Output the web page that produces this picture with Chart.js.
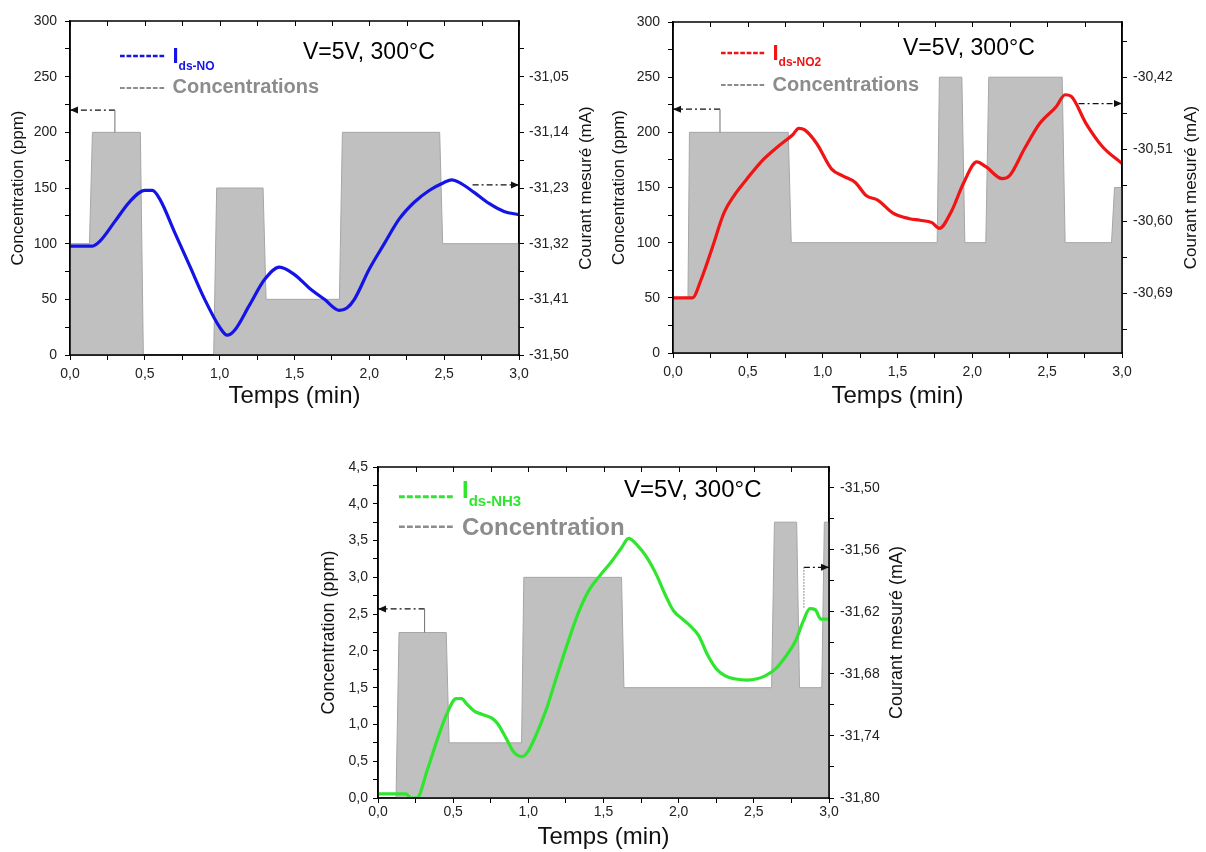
<!DOCTYPE html>
<html>
<head>
<meta charset="utf-8">
<script src="https://cdn.jsdelivr.net/npm/chart.js@4.4.0/dist/chart.umd.min.js"></script>
<style>
    html, body { margin: 0; padding: 0; background: #fff; }
    body { width: 1206px; height: 852px; position: relative; overflow: hidden; }
    .panel { position: absolute; }
</style>
</head>
<body>
<div class="panel" style="left:0;top:0;"><canvas id="chartNO" width="600" height="420"></canvas></div>
<div class="panel" style="left:600px;top:0;"><canvas id="chartNO2" width="606" height="420"></canvas></div>
<div class="panel" style="left:300px;top:450px;"><canvas id="chartNH3" width="620" height="402"></canvas></div>
<script>
// ======================================
// DATA
// ======================================
const timeTicks  = [0, 0.25, 0.5, 0.75, 1, 1.25, 1.5, 1.75, 2, 2.25, 2.5, 2.75, 3];
const timeLabels = ["0,0", "", "0,5", "", "1,0", "", "1,5", "", "2,0", "", "2,5", "", "3,0"];

const ppmTicks  = [0, 25, 50, 75, 100, 125, 150, 175, 200, 225, 250, 275, 300];
const ppmLabels = ["0", "", "50", "", "100", "", "150", "", "200", "", "250", "", "300"];

const nh3PpmTicks  = [0, 0.25, 0.5, 0.75, 1, 1.25, 1.5, 1.75, 2, 2.25, 2.5, 2.75, 3, 3.25, 3.5, 3.75, 4, 4.25, 4.5];
const nh3PpmLabels = ["0,0", "", "0,5", "", "1,0", "", "1,5", "", "2,0", "", "2,5", "", "3,0", "", "3,5", "", "4,0", "", "4,5"];

// --- NO panel
const noRightTicks  = [-31.50, -31.455, -31.41, -31.365, -31.32, -31.275, -31.23, -31.185, -31.14, -31.095, -31.05, -31.005];
const noRightLabels = ["-31,50", "", "-31,41", "", "-31,32", "", "-31,23", "", "-31,14", "", "-31,05", ""];
const noTime = [0, 0.1, 0.15, 0.2, 0.3, 0.4, 0.5, 0.55, 0.6, 0.7, 0.8, 0.9, 1.0, 1.05, 1.1, 1.2, 1.3, 1.4,
    1.5, 1.6, 1.7, 1.8, 1.85, 1.9, 2.0, 2.1, 2.2, 2.3, 2.4, 2.5, 2.55, 2.6, 2.7, 2.8, 2.9, 3.0];
const noCurrent = [-31.324, -31.324, -31.324, -31.316, -31.284, -31.252, -31.234, -31.234, -31.248, -31.302,
    -31.356, -31.410, -31.455, -31.468, -31.460, -31.419, -31.378, -31.358, -31.370, -31.392, -31.410, -31.428,
    -31.424, -31.410, -31.361, -31.320, -31.280, -31.253, -31.234, -31.221, -31.217, -31.221, -31.237, -31.255,
    -31.268, -31.273];
const noConcTime = [0, 0.13, 0.15, 0.47, 0.49, 0.96, 0.98, 1.29, 1.31, 1.80, 1.82, 2.47, 2.49, 3.0];
const noConc     = [100, 100, 200, 200, 0, 0, 150, 150, 50, 50, 200, 200, 100, 100];
const noArrowLeft  = { x: [0.30, 0.30, 0.0], y: [200, 220, 220] };
const noArrowRight = { x: [2.69, 3.0], y: [-31.225, -31.225] };

// --- NO2 panel
const no2RightTicks  = [-30.735, -30.69, -30.645, -30.60, -30.555, -30.51, -30.465, -30.42, -30.375];
const no2RightLabels = ["", "-30,69", "", "-30,60", "", "-30,51", "", "-30,42", ""];
const no2Time = [0, 0.13, 0.186, 0.263, 0.34, 0.405, 0.495, 0.598, 0.70, 0.80, 0.84, 0.88, 0.96, 1.06, 1.14,
    1.22, 1.29, 1.37, 1.47, 1.58, 1.65, 1.73, 1.78, 1.86, 1.94, 2.03, 2.09, 2.20, 2.25, 2.35, 2.45, 2.56, 2.62,
    2.66, 2.76, 2.87, 3.0];
const no2Current = [-30.696, -30.696, -30.674, -30.633, -30.590, -30.569, -30.547, -30.524, -30.507, -30.492,
    -30.484, -30.486, -30.503, -30.535, -30.544, -30.552, -30.568, -30.574, -30.590, -30.597, -30.599, -30.602,
    -30.609, -30.588, -30.553, -30.526, -30.532, -30.547, -30.543, -30.509, -30.478, -30.457, -30.442, -30.444,
    -30.478, -30.507, -30.528];
const no2ConcTime = [0, 0.10, 0.11, 0.77, 0.79, 1.765, 1.78, 1.93, 1.95, 2.09, 2.11, 2.60, 2.62, 2.93, 2.95, 3.0];
const no2Conc     = [50, 50, 200, 200, 100, 100, 250, 250, 100, 100, 250, 250, 100, 100, 150, 150];
const no2ArrowLeft  = { x: [0.314, 0.314, 0.0], y: [200, 221, 221] };
const no2ArrowRight = { x: [2.71, 3.0], y: [-30.453, -30.453] };

// --- NH3 panel
const nh3RightTicks  = [-31.80, -31.77, -31.74, -31.71, -31.68, -31.65, -31.62, -31.59, -31.56, -31.53, -31.50];
const nh3RightLabels = ["-31,80", "", "-31,74", "", "-31,68", "", "-31,62", "", "-31,56", "", "-31,50"];
const nh3Time = [0, 0.186, 0.22, 0.258, 0.33, 0.40, 0.46, 0.52, 0.556, 0.59, 0.64, 0.69, 0.76, 0.795, 0.855,
    0.90, 0.96, 0.998, 1.046, 1.118, 1.19, 1.26, 1.33, 1.40, 1.476, 1.55, 1.62, 1.667, 1.727, 1.786, 1.858,
    1.906, 1.966, 2.025, 2.073, 2.133, 2.19, 2.25, 2.31, 2.38, 2.455, 2.515, 2.575, 2.646, 2.718, 2.778, 2.826,
    2.873, 2.909, 2.945, 3.0];
const nh3Current = [-31.796, -31.796, -31.800, -31.800, -31.772, -31.741, -31.718, -31.704, -31.704, -31.709,
    -31.716, -31.719, -31.723, -31.728, -31.743, -31.755, -31.760, -31.755, -31.741, -31.715, -31.682, -31.651,
    -31.622, -31.600, -31.585, -31.572, -31.558, -31.549, -31.556, -31.567, -31.586, -31.602, -31.619, -31.627,
    -31.633, -31.643, -31.661, -31.675, -31.682, -31.685, -31.686, -31.685, -31.682, -31.675, -31.662, -31.648,
    -31.630, -31.617, -31.618, -31.627, -31.627];
const nh3ConcTime = [0, 0.12, 0.14, 0.454, 0.473, 0.955, 0.97, 1.62, 1.636, 2.618, 2.637, 2.785, 2.804, 2.952, 2.969, 3.0];
const nh3Conc     = [0, 0, 2.25, 2.25, 0.75, 0.75, 3, 3, 1.5, 1.5, 3.75, 3.75, 1.5, 1.5, 3.75, 3.75];
const nh3ArrowLeft  = { x: [0.31, 0.31, 0.0], y: [2.25, 2.57, 2.57] };
const nh3ArrowRight = { x: [2.833, 2.833, 3.0], y: [-31.616, -31.577, -31.577] };

// ======================================
// HELPERS
// ======================================
const FONT = '"Liberation Sans", Arial, sans-serif';
const zip = (xs, ys) => xs.map((x, i) => ({ x: x, y: ys[i] }));

function dashes(ctx, x0, x1, y, color, w) {
    const seg = (x1 - x0) / 7;
    ctx.save();
    ctx.strokeStyle = color;
    ctx.lineWidth = w;
    ctx.setLineDash([seg * 0.72, seg * 0.28]);
    ctx.beginPath();
    ctx.moveTo(x0, y);
    ctx.lineTo(x1, y);
    ctx.stroke();
    ctx.restore();
}

// frame, inward top ticks, right title, legend text, arrow heads
const panelDecor = {
    id: "panelDecor",
    afterDraw(chart, args, o) {
        const { ctx, chartArea: a, scales } = chart;
        ctx.save();

        // arrow heads at the end of the dash-dot pointers
        chart.data.datasets.forEach((ds, i) => {
            if (!ds.arrowHead) return;
            const pts = chart.getDatasetMeta(i).data;
            const p = pts[pts.length - 1];
            const d = ds.arrowHead === "left" ? 1 : -1;
            ctx.fillStyle = "#111";
            ctx.beginPath();
            ctx.moveTo(p.x, p.y);
            ctx.lineTo(p.x + d * 8, p.y - 3.5);
            ctx.lineTo(p.x + d * 8, p.y + 3.5);
            ctx.closePath();
            ctx.fill();
        });

        ctx.strokeStyle = "#000";
        ctx.lineWidth = 1.5;
        ctx.strokeRect(a.left, a.top, a.right - a.left, a.bottom - a.top);
        ctx.lineWidth = 1;
        ctx.beginPath();
        scales.x.ticks.forEach(t => {
            const px = Math.round(scales.x.getPixelForValue(t.value)) + 0.5;
            ctx.moveTo(px, a.top);
            ctx.lineTo(px, a.top + 5);
        });
        ctx.stroke();

        // right axis title reads bottom-to-top like the left one
        ctx.save();
        ctx.translate(o.rightTitleX, (a.top + a.bottom) / 2);
        ctx.rotate(-Math.PI / 2);
        ctx.font = o.rightTitleSize + "px " + FONT;
        ctx.fillStyle = "#111";
        ctx.textAlign = "center";
        ctx.textBaseline = "middle";
        ctx.fillText("Courant mesuré (mA)", 0, 0);
        ctx.restore();

        // legend
        const L = o.legend;
        dashes(ctx, a.left + L.dashX[0], a.left + L.dashX[1], a.top + L.rowY[0], L.color, L.dashW);
        dashes(ctx, a.left + L.dashX[0], a.left + L.dashX[1], a.top + L.rowY[1], "#8c8c8c", L.dashW - 0.5);
        ctx.textAlign = "left";
        ctx.textBaseline = "alphabetic";
        ctx.fillStyle = L.color;
        ctx.font = "bold " + L.iSize + "px " + FONT;
        const tx = a.left + L.textX;
        ctx.fillText("I", tx, a.top + L.iBase);
        const iw = ctx.measureText("I").width;
        ctx.font = "bold " + L.subSize + "px " + FONT;
        ctx.fillText(L.sub, tx + iw, a.top + L.subBase);
        ctx.fillStyle = "#8c8c8c";
        ctx.font = "bold " + L.concSize + "px " + FONT;
        ctx.fillText(L.conc, tx, a.top + L.concBase);

        ctx.fillStyle = "#000";
        ctx.font = L.vSize + "px " + FONT;
        ctx.fillText("V=5V, 300°C", a.left + L.vX, a.top + L.vBase);
        ctx.restore();
    }
};

function arrowSets(arrow, axis, dotted, head) {
    const n = arrow.x.length;
    const sets = [];
    if (n === 3) {
        sets.push({
            data: zip(arrow.x.slice(0, 2), arrow.y.slice(0, 2)), yAxisID: axis,
            borderColor: "#707070", borderWidth: 1, borderDash: dotted ? [1.5, 1.5] : [],
            pointRadius: 0, tension: 0, order: 2
        });
    }
    sets.push({
        data: zip(arrow.x.slice(n - 2), arrow.y.slice(n - 2)), yAxisID: axis,
        borderColor: "#111", borderWidth: 1.2, borderDash: [6, 3, 2, 3],
        pointRadius: 0, tension: 0, order: 2, arrowHead: head
    });
    return sets;
}

function axisOf(ticks, labels, size, pad, extra) {
    return Object.assign({
        afterBuildTicks: s => { s.ticks = ticks.map(v => ({ value: v })); },
        ticks: {
            autoSkip: false, maxRotation: 0, padding: pad, color: "#222",
            font: { family: FONT, size: 14 },
            callback: (v, i) => labels[i]
        },
        grid: { drawOnChartArea: false, drawTicks: true, tickLength: 5, color: "#000", tickWidth: 1 },
        border: { display: true, color: "#000", width: 1.5 }
    }, extra);
}

// ======================================
// PANEL FACTORY
// ======================================
function makePanel(id, p) {
    return new Chart(document.getElementById(id), {
        type: "line",
        data: {
            datasets: [
                {
                    label: "I" + p.legend.sub, data: zip(p.time, p.current), yAxisID: "y2",
                    borderColor: p.legend.color, borderWidth: 3.2, pointRadius: 0,
                    cubicInterpolationMode: "monotone", fill: false, order: 0
                },
                {
                    label: p.legend.conc, data: zip(p.concTime, p.conc), yAxisID: "y",
                    borderColor: "#a6a6a6", borderWidth: 1, backgroundColor: "#c0c0c0",
                    fill: "origin", pointRadius: 0, tension: 0, order: 9
                },
                ...arrowSets(p.arrowLeft, "y", false, "left"),
                ...arrowSets(p.arrowRight, "y2", true, "right")
            ]
        },
        options: {
            responsive: false,
            animation: false,
            events: [],
            layout: { padding: { top: p.top, left: 0, right: 0, bottom: 0 } },
            plugins: {
                legend: { display: false },
                tooltip: { enabled: false },
                panelDecor: { rightTitleX: p.rightTitleX, rightTitleSize: p.titleSize, legend: p.legend }
            },
            scales: {
                x: axisOf(timeTicks, timeLabels, 14, p.xTickPad, {
                    type: "linear", position: "bottom", min: 0, max: 3,
                    afterFit: s => { s.height = p.xHeight; },
                    title: {
                        display: true, text: "Temps (min)", color: "#111",
                        font: { family: FONT, size: 24 }, padding: { top: 0, bottom: p.xTitlePad }
                    }
                }),
                y: axisOf(p.leftTicks, p.leftLabels, 14, p.yTickPad, {
                    type: "linear", position: "left", min: p.leftMin, max: p.leftMax,
                    afterFit: s => { s.width = p.yWidth; },
                    title: {
                        display: true, text: "Concentration (ppm)", color: "#111",
                        font: { family: FONT, size: p.titleSize }, padding: { top: p.yTitlePad, bottom: 0 }
                    }
                }),
                y2: axisOf(p.rightTicks, p.rightLabels, 14, p.y2TickPad, {
                    type: "linear", position: "right", min: p.rightMin, max: p.rightMax,
                    afterFit: s => { s.width = p.y2Width; }
                })
            }
        },
        plugins: [panelDecor]
    });
}

// ======================================
// THE THREE PANELS
// ======================================
makePanel("chartNO", {
    time: noTime, current: noCurrent, concTime: noConcTime, conc: noConc,
    arrowLeft: noArrowLeft, arrowRight: noArrowRight,
    leftTicks: ppmTicks, leftLabels: ppmLabels, leftMin: 0, leftMax: 300,
    rightTicks: noRightTicks, rightLabels: noRightLabels, rightMin: -31.50, rightMax: -30.96,
    top: 21, xHeight: 65, yWidth: 70, y2Width: 81,
    xTickPad: 6, yTickPad: 8, y2TickPad: 5, xTitlePad: 9, yTitlePad: 8,
    titleSize: 17, rightTitleX: 586,
    legend: {
        color: "#1414e6", dashW: 2.5, dashX: [50, 96], rowY: [35, 67],
        textX: 102.5, iSize: 22, iBase: 42, sub: "ds-NO", subSize: 12, subBase: 48.5,
        conc: "Concentrations", concSize: 20, concBase: 72, vX: 233, vBase: 38, vSize: 23
    }
});

makePanel("chartNO2", {
    time: no2Time, current: no2Current, concTime: no2ConcTime, conc: no2Conc,
    arrowLeft: no2ArrowLeft, arrowRight: no2ArrowRight,
    leftTicks: ppmTicks, leftLabels: ppmLabels, leftMin: 0, leftMax: 300,
    rightTicks: no2RightTicks, rightLabels: no2RightLabels, rightMin: -30.765, rightMax: -30.351,
    top: 22, xHeight: 67, yWidth: 73, y2Width: 84,
    xTickPad: 6, yTickPad: 8, y2TickPad: 6, xTitlePad: 9, yTitlePad: 9,
    titleSize: 17, rightTitleX: 591,
    legend: {
        color: "#f01414", dashW: 2.5, dashX: [48, 93], rowY: [31, 63],
        textX: 99.5, iSize: 22, iBase: 38, sub: "ds-NO2", subSize: 12, subBase: 43.5,
        conc: "Concentrations", concSize: 20, concBase: 69, vX: 230, vBase: 33, vSize: 23
    }
});

makePanel("chartNH3", {
    time: nh3Time, current: nh3Current, concTime: nh3ConcTime, conc: nh3Conc,
    arrowLeft: nh3ArrowLeft, arrowRight: nh3ArrowRight,
    leftTicks: nh3PpmTicks, leftLabels: nh3PpmLabels, leftMin: 0, leftMax: 4.5,
    rightTicks: nh3RightTicks, rightLabels: nh3RightLabels, rightMin: -31.80, rightMax: -31.48,
    top: 17, xHeight: 54, yWidth: 78, y2Width: 91,
    xTickPad: 1, yTickPad: 5, y2TickPad: 6, xTitlePad: 0, yTitlePad: 18,
    titleSize: 18, rightTitleX: 597,
    legend: {
        color: "#2ee62e", dashW: 3, dashX: [21, 77], rowY: [29.7, 59.7],
        textX: 84, iSize: 24, iBase: 31.3, sub: "ds-NH3", subSize: 15, subBase: 39,
        conc: "Concentration", concSize: 24, concBase: 68, vX: 246, vBase: 29.7, vSize: 24
    }
});
</script>
</body>
</html>
